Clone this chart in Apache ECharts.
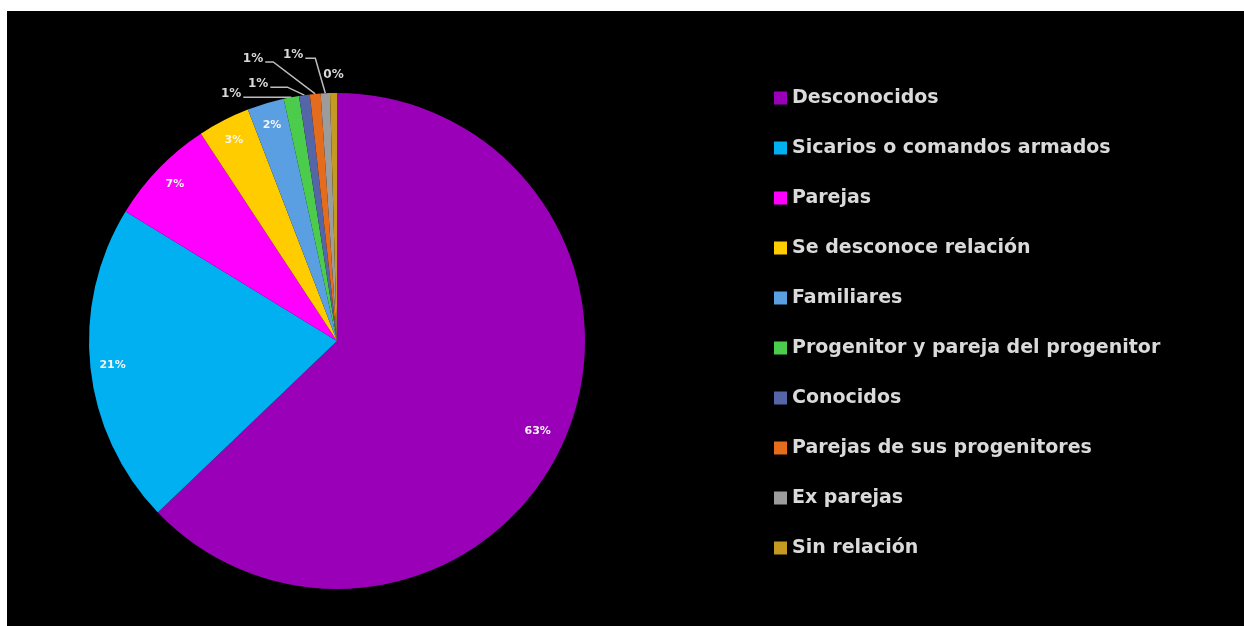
<!DOCTYPE html>
<html>
<head>
<meta charset="utf-8">
<script src="https://cdn.jsdelivr.net/npm/echarts@6/dist/echarts.min.js"></script>
<style>
  html, body { margin: 0; padding: 0; background: #fff; width: 1244px; height: 626px; overflow: hidden; }
  #chart { position: absolute; left: 7px; top: 11px; width: 1237px; height: 615px; background: #000; }
</style>
</head>
<body>
<div id="chart"></div>
<script>
// Relación con el agresor (porcentaje de casos)
const categories = [
  'Desconocidos',
  'Sicarios o comandos armados',
  'Parejas',
  'Se desconoce relación',
  'Familiares',
  'Progenitor y pareja del progenitor',
  'Conocidos',
  'Parejas de sus progenitores',
  'Ex parejas',
  'Sin relación'
];
const shares = [62.85, 20.9, 7.0, 3.4, 2.4, 1.0, 0.7, 0.7, 0.6, 0.45];
const colors = ['#9a00b8', '#00b0f0', '#ff00ff', '#ffcc00', '#5b9fe3',
                '#4ccc4c', '#5566a8', '#e46c1c', '#9c9c9c', '#c49a22'];

// pie geometry (chart pixels)
const CX = 330, CY = 330, R = 248;
// thin slices get their label outside, hooked by a leader line
const OUTSIDE_BELOW = 1.5;
// leader lines, relative to the rim point: [elbow dx, elbow dy, end dx, end dy]
const leaderOffsets = {
  5: [-24, 0, -48, 0],
  6: [-17, -8, -34, -8],
  7: [-42, -32, -50, -32],
  8: [-10, -35, -20, -35]
};

const total = shares.reduce((a, b) => a + b, 0);
const midAngles = [];
let acc = 0;
shares.forEach(v => { midAngles.push((acc + v / 2) / total * 2 * Math.PI); acc += v; });

function rimPoint(i, k) {
  const a = midAngles[i];
  return [CX + k * R * Math.sin(a), CY - k * R * Math.cos(a)];
}

const pieData = categories.map((name, i) => {
  const outside = shares[i] < OUTSIDE_BELOW;
  return {
    name: name,
    value: shares[i],
    itemStyle: { color: colors[i] },
    label: outside
      ? { fontSize: 12, color: '#d9d9d9' }
      : { fontSize: 11, color: '#f4f4f4' },
    labelLine: { show: outside && leaderOffsets[i] !== undefined }
  };
});

const chart = echarts.init(document.getElementById('chart'));
chart.setOption({
  backgroundColor: '#000',
  animation: false,
  legend: {
    orient: 'vertical',
    left: 762,
    top: 72,
    icon: 'rect',
    itemWidth: 13,
    itemHeight: 13,
    itemGap: 30,
    selectedMode: false,
    data: categories,
    textStyle: {
      color: '#dadada',
      fontFamily: 'DejaVu Sans',
      fontWeight: 'bold',
      fontSize: 19,
      lineHeight: 20
    }
  },
  series: [{
    type: 'pie',
    center: [CX, CY],
    radius: R,
    startAngle: 90,
    clockwise: true,
    avoidLabelOverlap: false,
    silent: true,
    data: pieData,
    label: {
      show: true,
      position: 'outside',
      fontFamily: 'DejaVu Sans',
      fontWeight: 'bold',
      formatter: p => Math.round(p.percent) + '%'
    },
    labelLine: {
      show: true,
      lineStyle: { color: '#bdbdbd', width: 1.5 }
    },
    labelLayout: function (p) {
      const i = p.dataIndex;
      if (shares[i] >= OUTSIDE_BELOW) {
        const pt = rimPoint(i, i === 0 ? 0.88 : 0.91);
        return { x: pt[0], y: pt[1] + (i === 0 ? 4 : 0), align: 'center', verticalAlign: 'middle' };
      }
      const rim = rimPoint(i, 1);
      const off = leaderOffsets[i];
      if (!off) {
        return { x: rim[0], y: rim[1] - 12, align: 'center', verticalAlign: 'bottom' };
      }
      const ex = rim[0] + off[2], ey = rim[1] + off[3];
      return {
        x: ex - 2, y: ey + 3, align: 'right', verticalAlign: 'bottom',
        labelLinePoints: [[rim[0], rim[1]], [rim[0] + off[0], rim[1] + off[1]], [ex, ey]]
      };
    }
  }]
});
</script>
</body>
</html>
